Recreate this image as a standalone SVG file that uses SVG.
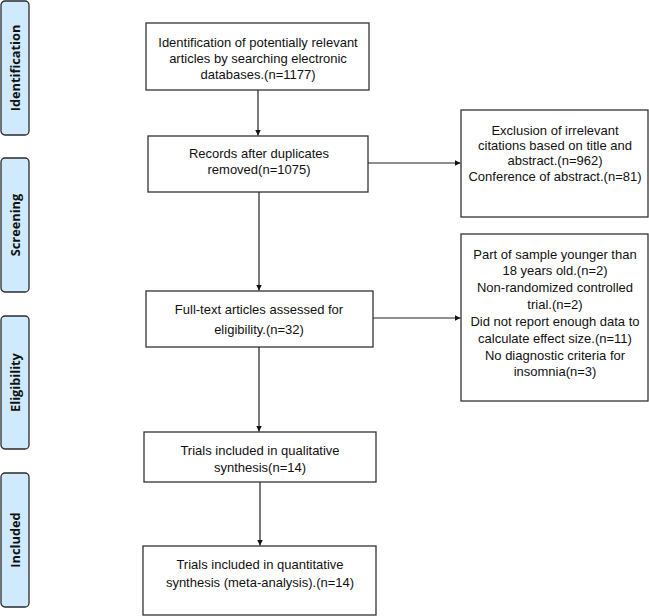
<svg xmlns="http://www.w3.org/2000/svg" width="649" height="616" viewBox="0 0 649 616">
<style>
.stage rect{fill:#cfeafc;stroke:#2b2b2b;stroke-width:1.3}
.stage text{font-family:"Open Sans","Liberation Sans",sans-serif;font-weight:bold;font-size:12.8px;fill:#111;text-anchor:middle}
.box rect{fill:#fff;stroke:#333;stroke-width:1.3}
.box text{font-family:"Liberation Sans",Arial,sans-serif;font-size:13px;fill:#111;text-anchor:middle}
#connectors path{stroke:#222;stroke-width:1.2;fill:none;marker-end:url(#ah)}
</style>
<defs>
<marker id="ah" viewBox="0 0 10 10" refX="10" refY="5" markerWidth="6" markerHeight="6" markerUnits="userSpaceOnUse" orient="auto">
<path d="M0,0 L10,5 L0,10 Z" fill="#111"/>
</marker>
</defs>
<rect width="649" height="616" fill="#fff"/>
<g id="stage-identification" class="stage"><rect x="1" y="1" width="28" height="134" rx="4"/><text transform="translate(20,68) rotate(-90)">Identification</text></g>
<g id="stage-screening" class="stage"><rect x="1" y="158" width="28" height="134" rx="4"/><text transform="translate(20,225) rotate(-90)">Screening</text></g>
<g id="stage-eligibility" class="stage"><rect x="1" y="316" width="28" height="133" rx="4"/><text transform="translate(20,382.5) rotate(-90)">Eligibility</text></g>
<g id="stage-included" class="stage"><rect x="1" y="473" width="28" height="134" rx="4"/><text transform="translate(20,540) rotate(-90)">Included</text></g>

<g id="n-identification" class="box"><rect x="146" y="23" width="223" height="67"/>
<text x="258" y="47">Identification of potentially relevant</text>
<text x="258" y="63">articles by searching electronic</text>
<text x="258" y="79">databases.(n=1177)</text></g>
<g id="n-records" class="box"><rect x="148" y="136" width="220" height="56"/>
<text x="259" y="158">Records after duplicates</text>
<text x="259" y="174">removed(n=1075)</text></g>
<g id="n-excl1" class="box"><rect x="461" y="110" width="187" height="107"/>
<text x="555" y="135">Exclusion of irrelevant</text>
<text x="555" y="150">citations based on title and</text>
<text x="555" y="165">abstract.(n=962)</text>
<text x="555" y="181">Conference of abstract.(n=81)</text></g>
<g id="n-fulltext" class="box"><rect x="146" y="291" width="227" height="56"/>
<text x="259" y="314">Full-text articles assessed for</text>
<text x="259" y="334">eligibility.(n=32)</text></g>
<g id="n-excl2" class="box"><rect x="461" y="234" width="187" height="167"/>
<text x="555" y="259">Part of sample younger than</text>
<text x="555" y="275">18 years old.(n=2)</text>
<text x="555" y="292">Non-randomized controlled</text>
<text x="555" y="309">trial.(n=2)</text>
<text x="555" y="326">Did not report enough data to</text>
<text x="555" y="343">calculate effect size.(n=11)</text>
<text x="555" y="360">No diagnostic criteria for</text>
<text x="555" y="376">insomnia(n=3)</text></g>
<g id="n-qualitative" class="box"><rect x="144" y="432" width="232" height="50"/>
<text x="260" y="455">Trials included in qualitative</text>
<text x="260" y="472">synthesis(n=14)</text></g>
<g id="n-quantitative" class="box"><rect x="143" y="546" width="233" height="69"/>
<text x="260" y="569">Trials included in quantitative</text>
<text x="260" y="587">synthesis (meta-analysis).(n=14)</text></g>

<g id="connectors">
<path d="M258,90 V135.5"/>
<path d="M368,163 H460.5"/>
<path d="M259,192 V290.5"/>
<path d="M373,318 H460.5"/>
<path d="M259,347 V431.5"/>
<path d="M260,482 V545.5"/>
</g>
</svg>
